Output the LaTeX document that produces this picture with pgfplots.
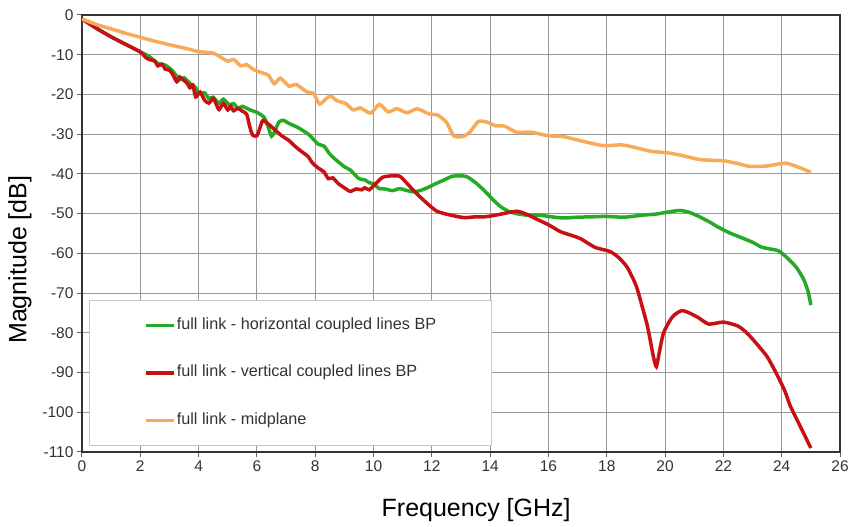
\documentclass[border=0pt]{standalone}
\usepackage{fontspec}
\setmainfont{Liberation Sans}
\usepackage{pgfplots}
\pgfplotsset{compat=1.18}

\definecolor{linkgreen}{RGB}{36,170,36}
\definecolor{linkred}{RGB}{200,16,20}
\definecolor{linkorange}{RGB}{248,170,88}

\begin{document}
\begin{tikzpicture}
\useasboundingbox (-82pt,-75pt) rectangle (772pt,452pt);
\begin{axis}[
  scale only axis,
  width=758pt, height=437pt,
  at={(0pt,0pt)}, anchor=south west,
  xmin=0, xmax=26, ymin=-110, ymax=0,
  xtick={0,2,...,26},
  ytick={-110,-100,...,0},
  grid=major,
  grid style={black!40, line width=1pt},
  axis line style={black!80, line width=1.3pt},
  tick align=outside, tick pos=left,
  major tick length=5pt,
  tick style={black!60, line width=1pt},
  /pgf/number format/assume math mode=true,
  ticklabel style={font=\fontsize{15.5}{18}\selectfont, text=black!80},
  xlabel={Frequency [GHz]},
  ylabel={Magnitude [dB]},
  label style={font=\fontsize{25}{30}\selectfont},
  xlabel style={at={(axis description cs:0.52,-0.133)}, anchor=center},
  ylabel style={at={(axis description cs:-0.082,0.44)}, anchor=center},
  legend cell align=left,
  legend image code/.code={\draw[#1, line width=3.5pt] (0pt,0pt) -- (28pt,0pt);},
  legend style={
    at={(axis description cs:0.0092,0.3478)}, anchor=north west,
    draw=black!22, line width=0.8pt, fill=white,
    font=\fontsize{16.2}{19}\selectfont, text=black!80,
    inner xsep=55pt, inner ysep=17pt,
    row sep=31.5pt, column sep=1pt,
    nodes={inner sep=0pt, text height=12pt, text depth=4pt},
  },
  every axis plot/.append style={line width=3.5pt, smooth, tension=0.4},
]

% full link - horizontal coupled lines BP
\addplot[linkgreen] coordinates {
  (0,-1) (0.5,-3.3) (1,-5.5) (1.5,-7.4) (2,-9.3) (2.3,-10.4) (2.6,-12.2)
  (2.85,-12.6) (3.1,-14.0) (3.35,-16.3) (3.5,-15.8) (3.7,-17.2) (3.9,-18.3)
  (4.0,-19.8) (4.2,-19.6) (4.35,-21.0) (4.5,-20.7) (4.7,-22.2) (4.85,-21.2)
  (5.05,-22.6) (5.2,-22.3) (5.35,-23.5) (5.5,-23.0) (5.8,-24.0) (6.0,-24.5)
  (6.25,-25.8) (6.4,-28.5) (6.5,-30.5) (6.6,-29.5) (6.75,-27.0) (6.9,-26.5)
  (7.1,-27.3) (7.4,-28.3) (7.6,-29.2) (7.8,-30.2) (8.1,-32.5) (8.3,-33.0)
  (8.5,-35.0) (8.7,-36.4) (9.0,-38.2) (9.2,-39.0) (9.5,-41.2) (9.7,-41.5)
  (9.85,-42.2) (10.0,-42.5) (10.2,-43.7) (10.4,-43.8) (10.65,-44.2)
  (10.9,-43.7) (11.1,-44.1) (11.35,-44.5) (11.6,-44.2) (11.9,-43.3)
  (12.15,-42.4) (12.4,-41.6) (12.7,-40.6) (13.0,-40.5) (13.2,-40.7)
  (13.5,-42.2) (13.8,-44.2) (14.1,-46.5) (14.35,-48.2) (14.6,-49.3)
  (14.9,-50.0) (15.3,-50.4) (15.7,-50.4) (16.1,-50.8) (16.5,-51.1)
  (17.0,-50.9) (17.5,-50.8) (18.0,-50.7) (18.6,-50.9) (19.2,-50.4)
  (19.7,-50.1) (20.1,-49.6) (20.5,-49.2) (20.8,-49.6) (21.1,-50.5)
  (21.5,-52.0) (21.8,-53.3) (22.2,-54.8) (22.6,-56.0) (23.0,-57.2)
  (23.3,-58.4) (23.6,-58.9) (23.9,-59.4) (24.2,-61.2) (24.5,-63.5)
  (24.75,-66.5) (24.9,-69.5) (25.0,-73.0)
};
\addlegendentry{full link - horizontal coupled lines BP}

% full link - vertical coupled lines BP
\addplot[linkred] coordinates {
  (0,-1) (0.5,-3.4) (1,-5.5) (1.5,-7.4) (2,-9.3) (2.2,-10.8) (2.35,-11.3)
  (2.5,-11.6) (2.6,-12.8) (2.75,-12.4) (2.85,-13.6) (3.0,-13.9) (3.1,-14.8)
  (3.25,-16.8) (3.35,-15.6) (3.45,-16.2) (3.6,-17.1) (3.7,-18.3) (3.8,-17.6)
  (3.9,-20.6) (4.05,-19.4) (4.2,-21.4) (4.35,-22.2) (4.5,-21.0) (4.6,-22.4)
  (4.7,-23.8) (4.85,-22.3) (5.0,-23.9) (5.1,-23.0) (5.2,-24.1) (5.35,-23.5)
  (5.5,-24.2) (5.65,-25.0) (5.75,-28.0) (5.85,-30.2) (6.0,-30.4) (6.1,-28.5)
  (6.2,-26.6) (6.4,-27.5) (6.6,-28.8) (6.85,-30.4) (7.1,-31.6) (7.3,-33.0)
  (7.5,-34.2) (7.75,-35.6) (7.9,-37.2) (8.1,-38.5) (8.3,-39.5) (8.45,-41.2)
  (8.6,-41.0) (8.8,-42.5) (9.0,-43.5) (9.2,-44.4) (9.4,-43.8) (9.6,-44.0)
  (9.7,-43.5) (9.85,-44.0) (10.0,-43.0) (10.3,-40.9) (10.6,-40.5)
  (10.9,-40.6) (11.1,-42.0) (11.35,-44.0) (11.7,-46.5) (12.15,-49.3)
  (12.6,-50.3) (13.1,-51.0) (13.5,-50.8) (13.8,-50.8) (14.1,-50.5)
  (14.45,-50.0) (14.9,-49.4) (15.2,-50.0) (15.6,-51.4) (16.0,-52.8)
  (16.4,-54.5) (16.8,-55.5) (17.1,-56.3) (17.6,-58.5) (18.1,-59.5)
  (18.4,-61.0) (18.7,-63.5) (19.0,-68.0) (19.2,-73.0) (19.4,-78.5)
  (19.6,-86.0) (19.7,-88.5) (19.8,-85.0) (19.95,-80.0) (20.25,-76.0)
  (20.6,-74.4) (21.1,-76.0) (21.5,-77.8) (22.0,-77.3) (22.5,-78.3)
  (22.8,-80.0) (23.1,-82.4) (23.5,-86.0) (23.8,-90.0) (24.1,-94.5)
  (24.3,-98.5) (24.6,-103.0) (24.8,-106.0) (25.0,-109.0)
};
\addlegendentry{full link - vertical coupled lines BP}

% full link - midplane
\addplot[linkorange] coordinates {
  (0,-1) (0.5,-2.4) (1,-3.5) (1.5,-4.6) (2,-5.6) (2.5,-6.6) (3,-7.5)
  (3.5,-8.3) (4,-9.2) (4.5,-9.6) (4.75,-10.6) (5.0,-11.6) (5.2,-11.2)
  (5.45,-12.8) (5.65,-12.5) (5.9,-13.8) (6.2,-14.6) (6.4,-15.2) (6.6,-17.3)
  (6.8,-15.9) (7.1,-17.9) (7.35,-17.5) (7.7,-19.3) (7.95,-19.8) (8.15,-22.4)
  (8.5,-20.4) (8.75,-21.6) (9.05,-22.3) (9.3,-23.9) (9.55,-23.4) (9.9,-24.7)
  (10.2,-22.5) (10.5,-24.4) (10.8,-23.6) (11.15,-24.6) (11.5,-23.6)
  (11.9,-24.9) (12.2,-25.2) (12.5,-27.0) (12.75,-30.4) (13.05,-30.6)
  (13.3,-29.5) (13.6,-26.8) (13.9,-27.0) (14.2,-27.9) (14.5,-28.0)
  (14.9,-29.5) (15.4,-29.5) (16.0,-30.4) (16.5,-30.6) (17.3,-32.0)
  (17.9,-32.9) (18.5,-32.7) (19.0,-33.4) (19.5,-34.3) (20.1,-34.7)
  (20.6,-35.4) (21.2,-36.4) (22.0,-36.7) (22.5,-37.4) (22.9,-38.1)
  (23.5,-38.0) (24.1,-37.3) (24.5,-38.1) (25.0,-39.6)
};
\addlegendentry{full link - midplane}

\end{axis}
\end{tikzpicture}
\end{document}
